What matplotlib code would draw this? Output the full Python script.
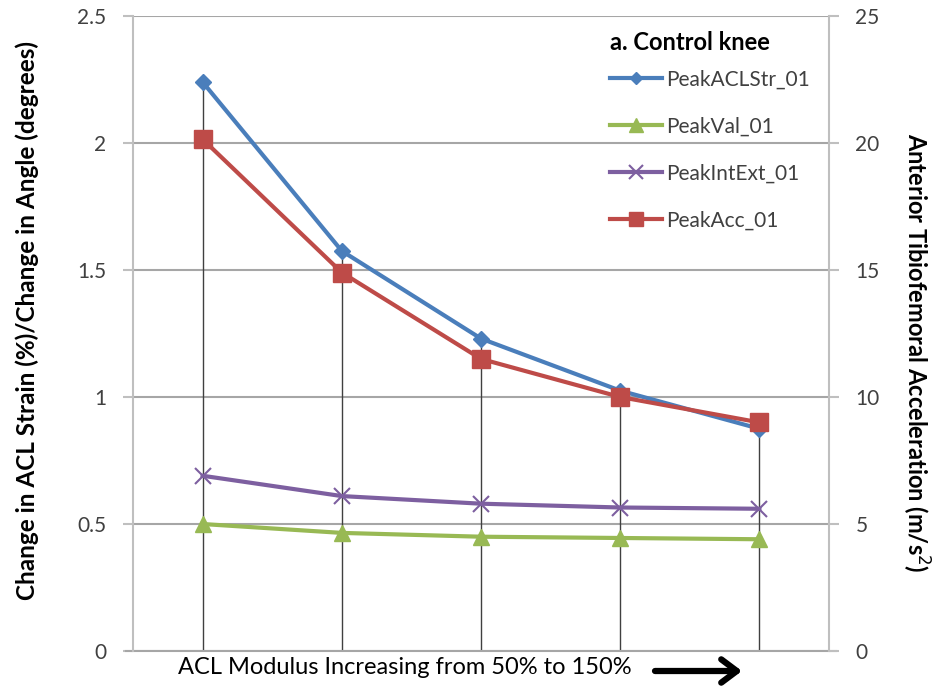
import matplotlib.pyplot as plt
import numpy as np

plt.rcParams['font.family'] = ['Lato', 'DejaVu Sans']

# modulus steps (50% .. 150%), plotted as categories
steps = [1, 2, 3, 4, 5]
peak_acl_str = [2.24, 1.575, 1.23, 1.025, 0.875]
peak_val = [0.50, 0.465, 0.45, 0.445, 0.44]
peak_int_ext = [0.69, 0.61, 0.58, 0.565, 0.56]
peak_acc = [20.15, 14.9, 11.5, 10.0, 9.0]   # right axis, m/s^2

left_ticks = [0, 0.5, 1, 1.5, 2, 2.5]
right_ticks = [0, 5, 10, 15, 20, 25]

c_blue = '#4a7ebb'
c_green = '#98b954'
c_purple = '#7d5fa0'
c_red = '#be4b48'
grid_c = '#a6a6a6'

fig = plt.figure(figsize=(9.38, 6.9), dpi=100)
ax = fig.add_axes([0.1418, 0.0565, 0.742, 0.9203])
ax2 = ax.twinx()

x = np.array(steps) - 0.5

# drop lines from highest point down to the axis
top = np.maximum.reduce([np.array(peak_acl_str), np.array(peak_acc) / 10,
                         np.array(peak_int_ext), np.array(peak_val)])
ax.vlines(x, 0, top, color='#404040', lw=1.0, zorder=1)

l1, = ax.plot(x, peak_acl_str, color=c_blue, lw=3, marker='D', ms=8, zorder=4)
l2, = ax.plot(x, peak_val, color=c_green, lw=3, marker='^', ms=12, zorder=3)
l3, = ax.plot(x, peak_int_ext, color=c_purple, lw=3, marker='x', ms=12, mew=1.5, zorder=3)
l4, = ax2.plot(x, peak_acc, color=c_red, lw=3, marker='s', ms=13, zorder=3)

ax.set_xlim(0, 5)
ax.set_ylim(0, 2.5)
ax2.set_ylim(0, 25)
ax.set_xticks([])
ax.set_yticks(left_ticks)
ax.set_yticklabels(['0', '0.5', '1', '1.5', '2', '2.5'])
ax2.set_yticks(right_ticks)
ax.yaxis.grid(True, color=grid_c, lw=1.5)
ax.set_axisbelow(True)

for a in (ax, ax2):
    for s in ('top', 'bottom'):
        a.spines[s].set_visible(False)
    a.spines['left'].set_color('#bfbfbf')
    a.spines['right'].set_color('#bfbfbf')
    a.spines['left'].set_linewidth(1.5)
    a.spines['right'].set_linewidth(1.5)
    a.tick_params(axis='y', colors='#bfbfbf', labelcolor='#404040', labelsize=15,
                  length=7, width=1.5, pad=12)
ax2.spines['left'].set_visible(False)
ax.spines['right'].set_visible(False)
ax.axhline(0, color=grid_c, lw=1.5, clip_on=False, xmin=-0.01, xmax=1.01)

ax.set_ylabel('Change in ACL Strain (%)/Change in Angle (degrees)',
              fontsize=17.5, fontweight='bold')
ax.yaxis.set_label_coords(-0.135, 0.52, transform=ax.transAxes)
ax2.set_ylabel('Anterior Tibiofemoral Acceleration (m/s$^2$)',
               fontsize=17, fontweight='bold', rotation=270, va='center', ha='center')
ax2.yaxis.set_label_coords(1.125, 0.47, transform=ax.transAxes)
ax.set_xlabel('ACL Modulus Increasing from 50% to 150%', fontsize=17, labelpad=4)
ax.xaxis.set_label_coords(0.39, -0.01, transform=ax.transAxes)
ax.xaxis.label.set_va('top')

fig.patches.append(plt.matplotlib.patches.FancyArrowPatch(
    (655 / 938, 1 - 671 / 690), (742 / 938, 1 - 671 / 690), transform=fig.transFigure,
    arrowstyle='->,head_length=0.8,head_width=0.6', lw=4.5, color='black',
    mutation_scale=14, shrinkA=0, shrinkB=0))

leg = ax.legend([l1, l2, l3, l4], ['PeakACLStr_01', 'PeakVal_01', 'PeakIntExt_01', 'PeakAcc_01'],
                title='a. Control knee', loc='upper right', bbox_to_anchor=(1.0, 1.006),
                frameon=False, fontsize=15, labelspacing=1.3, handlelength=2.5,
                handletextpad=0.2, markerscale=0.8)
leg._legend_box.align = 'left'
leg._legend_box.sep = 11
leg.get_title().set_fontweight('bold')
leg.get_title().set_fontsize(17)
for t in leg.get_texts():
    t.set_color('#404040')

fig.savefig('out.png', dpi=100)
